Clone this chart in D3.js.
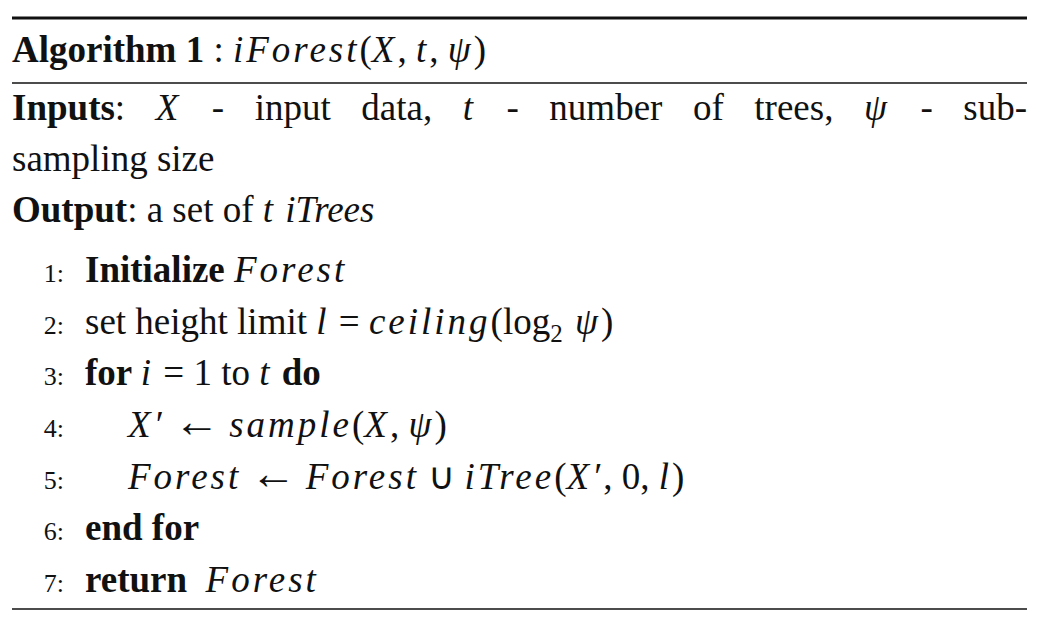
<!DOCTYPE html>
<html><head><meta charset="utf-8">
<script src="https://cdn.jsdelivr.net/npm/d3@7"></script>
<style>body{margin:0;background:#fff}text{font-family:"Liberation Serif","Times New Roman",serif;fill:#111}</style>
</head><body><div id="app"></div>
<script>
// segments: [text, style]  r=roman b=bold i=math italic t=text italic s=subscript a=arrow
const title = [["Algorithm 1", "b"], [" : ", "r"], ["iForest", "i"], ["(", "r"], ["X", "i"], [", ", "r"], ["t", "i"], [", ", "r"], ["ψ", "i"], [")", "r"]];
const header = [
  [["Inputs", "b"], [": ", "r"], ["X", "i"], [" - input data, ", "r"], ["t", "i"], [" - number of trees, ", "r"], ["ψ", "i"], [" - sub-", "r"]],
  [["sampling size", "r"]],
  [["Output", "b"], [": a set of ", "r"], ["t", "i"], [" ", "r"], ["iTrees", "t"]]
];
const stepNums = ["1:", "2:", "3:", "4:", "5:", "6:", "7:"];
const stepIndent = [0, 0, 0, 1, 1, 0, 0];
const steps = [
  [["Initialize ", "b"], ["Forest", "i"]],
  [["set height limit ", "r"], ["l", "i"], [" = ", "r"], ["ceiling", "i"], ["(log", "r"], ["2", "s"], [" ψ", "i"], [")", "r"]],
  [["for ", "b"], ["i", "i"], [" = 1 to ", "r"], ["t", "i"], [" do", "b"]],
  [["X′", "i"], [" ", "r"], ["←", "a"], [" ", "r"], ["sample", "i"], ["(", "r"], ["X", "i"], [", ", "r"], ["ψ", "i"], [")", "r"]],
  [["Forest", "i"], [" ", "r"], ["←", "a"], [" ", "r"], ["Forest", "i"], [" ∪ ", "r"], ["iTree", "i"], ["(", "r"], ["X′", "i"], [", 0, ", "r"], ["l", "i"], [")", "r"]],
  [["end for", "b"]],
  [["return  ", "b"], ["Forest", "i"]]
];

const W = 1042, H = 630, left = 12, right = 1027, fs = 37;
const svg = d3.select("#app").append("svg").attr("width", W).attr("height", H);

function seg(textSel, segs) {
  textSel.attr("xml:space", "preserve");
  textSel.selectAll("tspan").data(segs).enter().append("tspan")
    .text(d => d[0])
    .style("font-weight", d => d[1] == "b" ? "bold" : "normal")
    .style("font-style", d => (d[1] == "i" || d[1] == "t") ? "italic" : "normal")
    .style("letter-spacing", d => d[1] == "i" ? "3px" : null)
    .style("font-size", d => d[1] == "s" ? "25px" : d[1] == "a" ? "46px" : null)
    .attr("dy", (d, i) => d[1] == "s" ? 8 : (i > 0 && segs[i - 1][1] == "s" ? -8 : null));
  return textSel;
}

const rule = (y, w) => svg.append("line").attr("x1", left).attr("x2", right)
  .attr("y1", y).attr("y2", y).attr("stroke", "#111").attr("stroke-width", w);
rule(18, 3); rule(83, 1.5); rule(609, 1.5);

seg(svg.append("text").attr("x", left).attr("y", 62).style("font-size", fs + "px"), title);

const hy = d3.scaleLinear().domain([0, 2]).range([120, 222]);
header.forEach((h, i) => {
  const t = seg(svg.append("text").attr("x", left).attr("y", hy(i)).style("font-size", fs + "px"), h);
  if (i == 0) {
    const natural = t.node().getComputedTextLength();
    const spaces = h.map(d => d[0]).join("").split(" ").length - 1;
    t.style("word-spacing", ((right - left - natural) / spaces) + "px");
  }
});

const sy = d3.scaleLinear().domain([0, 6]).range([282, 592]);
stepNums.forEach((n, i) => {
  svg.append("text").attr("x", 64).attr("y", sy(i)).attr("text-anchor", "end")
    .style("font-size", "26px").text(n);
  seg(svg.append("text").attr("x", 85 + stepIndent[i] * 43).attr("y", sy(i)).style("font-size", fs + "px"), steps[i]);
});
</script></body></html>
